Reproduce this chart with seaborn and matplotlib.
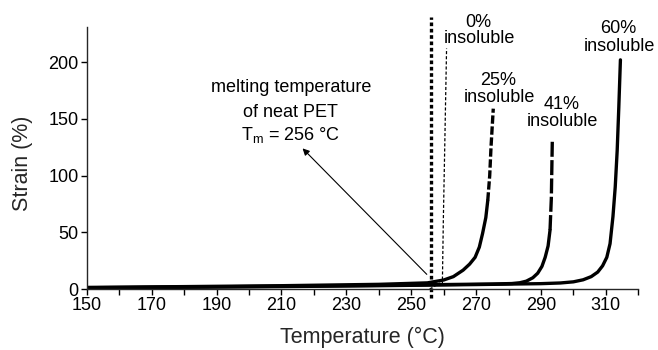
import matplotlib
matplotlib.use("Agg")
import matplotlib.pyplot as plt
import seaborn as sns
import pandas as pd

# Creep strain vs. temperature for PET with different insoluble fractions
temp_0 = [255.7, 258.8, 259.6, 259.9, 260.3, 260.6, 260.9]
strain_0 = [0.0, 5.3, 3.5, 60, 120, 166, 212]

temp_25 = [150, 180, 210, 240, 255, 260, 263, 266, 268, 269.7, 271, 272, 273, 273.6, 274.2, 274.6, 275.3]
strain_25 = [1.5, 2.2, 3.0, 4.2, 5.5, 8.0, 11.0, 16.7, 22.0, 28.0, 37.0, 49.0, 63.0, 78.0, 100.0, 125.0, 159.0]

temp_41 = [150, 180, 210, 240, 260, 275, 281, 283.5, 285.5, 287.5, 289.0, 290.3, 291.3, 292.2, 292.8, 293.2, 293.5]
strain_41 = [1.2, 1.8, 2.5, 3.3, 4.0, 4.5, 4.9, 5.6, 7.0, 10.0, 14.0, 20.0, 28.0, 38.0, 52.0, 80.0, 131.0]

temp_60 = [150, 180, 210, 240, 270, 290, 296, 300, 303, 305.5, 307.5, 309, 310.3, 311.3, 312.2, 312.9, 313.5, 314.0, 314.5]
strain_60 = [1.0, 1.6, 2.2, 3.0, 4.0, 4.8, 5.4, 6.4, 8.2, 11.0, 15.0, 20.5, 28.0, 40.0, 64.0, 90.0, 122.0, 160.0, 202.0]

tm_neat = 256
x_ticks = list(range(150, 330, 10))
x_labels = [str(t) if (t - 150) % 20 == 0 and t <= 310 else "" for t in x_ticks]
y_ticks = [0, 50, 100, 150, 200]

sns.set_theme(style="ticks")
plt.rcParams["font.family"] = ["Liberation Sans", "DejaVu Sans"]
plt.rcParams["axes.linewidth"] = 1.0

fig = plt.figure(figsize=(6.58, 3.5), dpi=100)
ax = fig.add_axes([0.132, 0.174, 0.838, 0.749])


def draw_curve(t, s, ls, lw, solid_below=None):
    """Draw one curve; the flat part is solid, the steep rise uses `ls`."""
    df = pd.DataFrame({"T": t, "S": s})
    if solid_below is None:
        sns.lineplot(data=df, x="T", y="S", ax=ax, color="black", sort=False,
                     estimator=None, linewidth=lw, linestyle=ls)
        return
    k = int((df["S"] < solid_below).sum())
    sns.lineplot(data=df.iloc[:k + 1], x="T", y="S", ax=ax, color="black",
                 sort=False, estimator=None, linewidth=lw, linestyle="-")
    sns.lineplot(data=df.iloc[k:], x="T", y="S", ax=ax, color="black",
                 sort=False, estimator=None, linewidth=lw, linestyle=ls)


draw_curve(temp_60, strain_60, "-", 2.4)
draw_curve(temp_41, strain_41, (0, (4.5, 1.0)), 2.4, solid_below=50)
draw_curve(temp_25, strain_25, (0, (2.5, 0.8)), 2.4, solid_below=75)
draw_curve(temp_0, strain_0, (0, (2.5, 1.6)), 0.9)

# melting temperature of neat PET
ax.plot([tm_neat, tm_neat], [-8, 240], color="black", lw=2.4,
        linestyle=(0, (1.1, 0.8)), clip_on=False)

ax.set_xlim(150, 320)
ax.set_ylim(0, 231)
ax.set_xticks(x_ticks)
ax.set_xticklabels(x_labels)
ax.set_yticks(y_ticks)
ax.tick_params(axis="both", direction="out", length=4, width=1, labelsize=13,
               colors="black", pad=2)
sns.despine(ax=ax)
ax.set_xlabel("Temperature (°C)", fontsize=15.5, labelpad=9)
ax.set_ylabel("Strain (%)", fontsize=15.5, labelpad=8)
ax.yaxis.set_label_coords(-0.098, 0.48)

kw = dict(ha="center", va="baseline", fontsize=13, color="black")
labels = [
    ("0%", 270.6, 231.0, 270.9, 216.5),
    ("25%", 276.7, 180.0, 277.2, 165.0),
    ("41%", 296.4, 159.0, 296.7, 143.6),
    ("60%", 313.8, 226.0, 314.1, 210.0),
]
for pct, x1, y1, x2, y2 in labels:
    ax.text(x1, y1, pct, **kw)
    ax.text(x2, y2, "insoluble", **kw)

akw = dict(ha="center", va="center", fontsize=13, color="black")
ax.text(213.0, 178, "melting temperature", **akw)
ax.text(212.7, 156, "of neat PET", **akw)
ax.text(212.7, 136, r"T$_\mathregular{m}$ = " + f"{tm_neat} °C", **akw)
ax.annotate("", xy=(216.5, 124), xytext=(254.8, 13),
            arrowprops=dict(arrowstyle="-|>", lw=0.8, color="black",
                            mutation_scale=10, shrinkA=0, shrinkB=0))

fig.savefig("out.png", dpi=100)
